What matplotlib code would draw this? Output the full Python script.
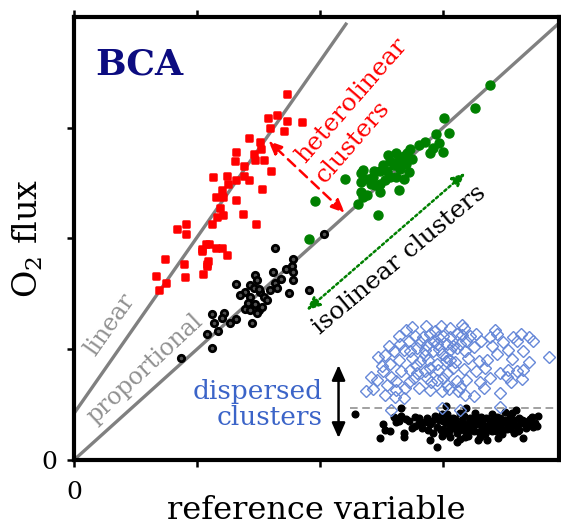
import numpy as np
import matplotlib
matplotlib.use('Agg')
import matplotlib.pyplot as plt
from matplotlib.markers import MarkerStyle

plt.rcParams['font.family'] = 'DejaVu Serif'
plt.rcParams['mathtext.fontset'] = 'dejavuserif'

# reference lines
linear_b, linear_m = 0.42, 1.59
prop_m = 1.0

# heterolinear cluster (red)
red = np.array([
    (1.73, 3.30), (1.58, 3.09), (1.65, 3.11), (1.73, 3.06), (1.85, 3.05),
    (1.59, 3.00), (1.71, 2.97), (1.42, 2.91), (1.51, 2.87), (1.52, 2.81),
    (1.32, 2.78), (1.46, 2.76), (1.47, 2.71), (1.54, 2.71), (1.31, 2.70),
    (1.38, 2.65), (1.60, 2.61), (1.24, 2.56), (1.13, 2.55), (1.32, 2.53),
    (1.38, 2.56), (1.42, 2.53), (1.25, 2.49), (1.53, 2.45), (1.20, 2.44),
    (1.15, 2.37), (1.21, 2.37), (1.32, 2.35), (1.19, 2.27), (1.21, 2.21),
    (1.37, 2.22), (1.16, 2.19), (1.12, 2.13), (1.48, 2.13), (0.91, 2.13),
    (0.84, 2.08), (0.91, 2.04), (1.07, 1.95), (1.04, 1.89), (1.15, 1.91),
    (1.20, 1.91), (1.24, 1.85), (1.09, 1.80), (1.08, 1.75), (1.05, 1.68),
    (0.74, 1.81), (0.89, 1.77), (0.90, 1.65), (0.67, 1.66), (0.75, 1.60),
    (0.69, 1.53), (1.10, 1.95), (1.08, 1.77), (1.04, 1.90),
])

# isolinear cluster, upper (green)
green = np.array([
    (3.38, 3.38), (3.26, 3.18), (3.01, 3.09), (3.05, 2.95), (2.94, 2.94),
    (2.85, 2.87), (2.80, 2.84), (2.97, 2.86), (2.92, 2.82), (2.89, 2.77),
    (3.00, 2.78), (2.71, 2.77), (2.62, 2.77), (2.68, 2.74), (2.57, 2.70),
    (2.60, 2.66), (2.70, 2.67), (2.54, 2.61), (2.49, 2.61), (2.65, 2.63),
    (2.72, 2.60), (2.62, 2.55), (2.68, 2.54), (2.35, 2.62), (2.43, 2.55),
    (2.49, 2.49), (2.41, 2.49), (2.45, 2.48), (2.33, 2.51), (2.20, 2.54),
    (2.64, 2.44), (2.57, 2.55), (2.33, 2.42), (2.49, 2.42), (2.38, 2.39),
    (2.35, 2.37), (2.31, 2.31), (2.47, 2.21), (1.96, 2.34), (1.91, 1.99),
    (2.33, 2.59), (2.51, 2.66), (2.55, 2.75), (2.63, 2.70), (2.44, 2.61),
    (2.75, 2.72), (2.73, 2.81), (2.53, 2.53), (2.39, 2.54),
])

# isolinear cluster, lower (black rings)
black = np.array([
    (2.03, 2.04), (1.63, 1.91), (1.78, 1.81), (1.72, 1.72), (1.77, 1.75),
    (1.78, 1.70), (1.62, 1.70), (1.68, 1.63), (1.63, 1.60), (1.78, 1.62),
    (1.47, 1.67), (1.32, 1.59), (1.49, 1.62), (1.43, 1.58), (1.46, 1.55),
    (1.39, 1.52), (1.51, 1.52), (1.59, 1.53), (1.65, 1.55), (1.75, 1.51),
    (1.91, 1.53), (1.43, 1.47), (1.54, 1.47), (1.57, 1.44), (1.47, 1.41),
    (1.39, 1.36), (1.43, 1.35), (1.50, 1.35), (1.41, 1.42), (1.53, 1.38),
    (1.49, 1.33), (1.45, 1.24), (1.32, 1.27), (1.27, 1.24), (1.22, 1.33),
    (1.20, 1.28), (1.12, 1.32), (1.14, 1.24), (1.17, 1.16), (1.08, 1.14),
    (1.12, 1.01), (0.87, 0.92), (1.50, 1.54), (1.35, 1.49),
])

# dispersed cluster, upper (open diamonds)
diamonds = np.array([
    (2.75, 1.20), (2.86, 1.21), (2.98, 1.21), (3.06, 1.19), (3.15, 1.22),
    (3.17, 1.19), (3.27, 1.14), (3.42, 1.17), (3.38, 1.11), (3.44, 1.14),
    (3.57, 1.11), (3.63, 1.14), (3.70, 1.11), (3.73, 1.07), (2.64, 1.12),
    (2.77, 1.12), (2.84, 1.11), (2.89, 1.14), (2.92, 1.07), (2.96, 1.11),
    (3.00, 1.12), (3.06, 1.11), (3.11, 1.14), (3.15, 1.13), (3.22, 1.12),
    (3.31, 1.07), (3.49, 1.06), (3.60, 1.07), (2.56, 1.03), (2.65, 1.05),
    (2.72, 1.07), (2.81, 1.06), (2.87, 1.04), (2.95, 1.05), (3.03, 1.05),
    (3.08, 1.03), (3.14, 1.05), (3.19, 1.07), (2.47, 0.93), (2.53, 0.95),
    (2.60, 0.98), (2.68, 0.99), (2.73, 0.98), (2.79, 1.01), (2.85, 0.99),
    (2.92, 0.98), (2.99, 0.96), (3.06, 0.99), (3.11, 1.01), (3.18, 0.98),
    (3.44, 0.96), (3.65, 0.98), (3.53, 0.99), (3.86, 0.93), (2.57, 0.87),
    (2.64, 0.90), (2.75, 0.92), (2.81, 0.89), (2.88, 0.90), (2.95, 0.87),
    (3.02, 0.89), (3.06, 0.90), (3.29, 0.89), (3.36, 0.90), (3.56, 0.91),
    (2.41, 0.75), (2.51, 0.80), (2.58, 0.75), (2.66, 0.80), (2.73, 0.81),
    (2.79, 0.78), (2.85, 0.80), (2.89, 0.83), (2.96, 0.81), (3.03, 0.78),
    (3.08, 0.83), (3.17, 0.82), (3.27, 0.80), (3.34, 0.83), (3.46, 0.78),
    (3.53, 0.81), (3.60, 0.80), (3.65, 0.81), (3.52, 0.75), (3.64, 0.73),
    (3.38, 0.74), (3.19, 0.72), (2.95, 0.72), (2.87, 0.74), (2.76, 0.74),
    (2.62, 0.71), (2.46, 0.72), (2.37, 0.62), (2.43, 0.64), (2.53, 0.59),
    (2.62, 0.63), (2.69, 0.65), (2.80, 0.65), (2.89, 0.63), (2.99, 0.62),
    (3.05, 0.64), (3.14, 0.66), (3.18, 0.59), (3.25, 0.58), (3.33, 0.65),
    (3.46, 0.60), (2.54, 0.68), (2.61, 0.57), (2.68, 0.56), (3.03, 0.68),
    (3.11, 0.71), (2.58, 0.45), (2.99, 0.47), (3.14, 0.45), (3.46, 0.48),
    (2.70, 1.17), (2.93, 1.16), (3.02, 0.93), (2.85, 0.95), (2.97, 1.00),
    (3.10, 0.88), (2.78, 0.86), (3.20, 0.92), (3.25, 1.02), (3.40, 1.03),
    (2.50, 0.85), (2.90, 0.70), (3.00, 0.74), (3.12, 0.62), (2.72, 0.70),
    (3.30, 0.70), (3.55, 0.70), (3.70, 0.88),
])

# dispersed cluster, lower (black dots)
dots = np.array([
    (2.28, 0.41), (2.66, 0.47), (3.02, 0.49), (3.19, 0.47), (2.99, 0.41),
    (2.51, 0.32), (2.53, 0.27), (2.57, 0.26), (2.49, 0.20), (2.60, 0.39),
    (2.64, 0.35), (2.68, 0.24), (2.68, 0.21), (2.72, 0.35), (2.75, 0.29),
    (2.77, 0.39), (2.80, 0.33), (2.83, 0.29), (2.87, 0.38), (2.89, 0.32),
    (2.89, 0.18), (2.92, 0.24), (2.95, 0.12), (2.98, 0.27), (3.00, 0.35),
    (3.03, 0.24), (3.06, 0.30), (3.08, 0.38), (3.11, 0.16), (3.11, 0.24),
    (3.14, 0.42), (3.15, 0.33), (3.18, 0.21), (3.19, 0.29), (3.22, 0.38),
    (3.25, 0.26), (3.26, 0.33), (3.30, 0.21), (3.31, 0.39), (3.33, 0.29),
    (3.36, 0.18), (3.38, 0.35), (3.40, 0.26), (3.44, 0.39), (3.45, 0.31),
    (3.48, 0.23), (3.50, 0.36), (3.52, 0.28), (3.56, 0.42), (3.57, 0.33),
    (3.59, 0.45), (3.61, 0.26), (3.64, 0.36), (3.65, 0.20), (3.68, 0.31),
    (3.72, 0.39), (3.75, 0.33), (3.77, 0.40), (3.76, 0.31),
    (2.95, 0.30), (2.97, 0.36), (3.00, 0.28), (3.02, 0.33), (3.04, 0.38),
    (3.05, 0.26), (3.07, 0.34), (3.09, 0.29), (3.10, 0.37), (3.12, 0.31),
    (3.13, 0.27), (3.15, 0.36), (3.16, 0.30), (3.17, 0.40), (3.20, 0.33),
    (3.21, 0.27), (3.23, 0.36), (3.24, 0.30), (3.27, 0.38), (3.28, 0.32),
    (3.29, 0.25), (3.32, 0.35), (3.34, 0.31), (3.35, 0.38), (3.37, 0.27),
    (3.39, 0.33), (3.41, 0.36), (3.42, 0.29), (3.44, 0.34), (3.46, 0.38),
    (3.47, 0.31), (3.49, 0.27), (3.51, 0.35), (3.53, 0.32), (3.54, 0.39),
    (3.55, 0.28), (3.58, 0.36), (3.60, 0.31), (3.62, 0.38), (3.63, 0.33),
    (3.66, 0.35), (3.67, 0.29), (3.70, 0.34), (3.71, 0.37), (3.73, 0.30),
    (2.85, 0.34), (2.88, 0.27), (2.91, 0.35), (2.93, 0.40), (2.80, 0.38),
    (2.77, 0.31), (2.70, 0.37), (2.66, 0.40), (2.62, 0.34), (3.06, 0.21),
    (3.20, 0.22), (3.34, 0.23), (3.45, 0.20), (3.58, 0.24), (3.03, 0.41),
    (3.26, 0.42), (3.40, 0.41), (3.50, 0.43), (3.14, 0.19), (3.28, 0.18),
    (2.99, 0.22), (3.38, 0.30), (3.18, 0.26), (3.48, 0.35), (3.62, 0.27),
    (3.25, 0.35), (3.10, 0.33), (3.56, 0.33), (3.32, 0.28), (3.43, 0.26),
])

split_y = 0.47

fig = plt.figure(figsize=(5.61, 5.25), dpi=100)
ax = fig.add_axes([0.132, 0.124, 0.864, 0.844])
ax.set_xlim(0, 3.94)
ax.set_ylim(0, 4.0)

# Linien
xl = np.array([0, 2.21])
ax.plot(xl, linear_b + linear_m * xl, color='#808080', lw=2.4, zorder=1)
xp = np.array([0, 4.0])
ax.plot(xp, prop_m * xp, color='#808080', lw=2.4, zorder=1)

ax.plot([2.24, 3.91], [split_y, split_y], color='#888888', lw=1.1, ls=(0, (5, 3)), zorder=1)

sq = MarkerStyle('s', joinstyle='round')
ax.plot(red[:, 0], red[:, 1], ls='none', marker=sq, ms=5, mfc='#ff0000', mec='#ff0000', mew=1.8, zorder=3)
ax.plot(green[:, 0], green[:, 1], ls='none', marker='o', ms=6.5, mfc='#008000', mec='#008000', zorder=3)
ax.plot(black[:, 0], black[:, 1], ls='none', marker='o', ms=4.6, mfc='#505050', mec='black', mew=2.0, zorder=3)
ax.plot(dots[:, 0], dots[:, 1], ls='none', marker='o', ms=4.8, color='black', zorder=3)
ax.plot(diamonds[:, 0], diamonds[:, 1], ls='none', marker='D', ms=6.3, mfc='none', mec='#6688d8', mew=1.0, zorder=4)

# Texte
ax.text(0.17, 3.48, 'BCA', fontsize=26, fontweight='bold', color='#0c0c80', va='baseline')
ax.text(0.29, 1.22, 'linear', fontsize=17, color='#909090', rotation=55,
        ha='center', va='center', rotation_mode='anchor')
ax.text(0.58, 0.82, 'proportional', fontsize=17, color='#909090', rotation=43,
        ha='center', va='center', rotation_mode='anchor')
ax.text(1.88, 2.67, 'heterolinear', fontsize=18, color='#ff0000', rotation=49,
        ha='left', va='baseline', rotation_mode='anchor')
ax.text(2.04, 2.49, 'clusters', fontsize=18, color='#ff0000', rotation=49,
        ha='left', va='baseline', rotation_mode='anchor')
ax.text(2.00, 1.13, 'isolinear clusters', fontsize=18, color='black', rotation=40,
        ha='left', va='baseline', rotation_mode='anchor')
ax.text(2.02, 0.55, 'dispersed', fontsize=19, color='#3b64c8', ha='right', va='baseline')
ax.text(2.02, 0.315, 'clusters', fontsize=19, color='#3b64c8', ha='right', va='baseline')

# Pfeile
ax.annotate('', xy=(1.58, 2.88), xytext=(2.20, 2.23),
            arrowprops=dict(arrowstyle='<|-|>,head_length=0.8,head_width=0.35', color='#ff0000',
                            lw=1.8, ls=(0, (4, 2.5)), shrinkA=0, shrinkB=0))
ax.annotate('', xy=(1.89, 1.35), xytext=(3.18, 2.59),
            arrowprops=dict(arrowstyle='<|-|>,head_length=0.8,head_width=0.35', color='#008000',
                            lw=1.8, ls=(0, (1, 1.2)), shrinkA=0, shrinkB=0))
ax.annotate('', xy=(2.15, 0.856), xytext=(2.15, 0.198),
            arrowprops=dict(arrowstyle='<|-|>,head_length=0.9,head_width=0.4', color='black',
                            lw=1.8, shrinkA=0, shrinkB=0))

# Achsen
for s in ax.spines.values():
    s.set_linewidth(3)
ax.set_xticks([0, 1, 2, 3])
ax.set_xticklabels(['0', '', '', ''])
ax.set_yticks([0, 1, 2, 3])
ax.set_yticklabels(['0', '', '', ''])
ax.tick_params(axis='x', direction='out', length=5, width=1.8, top=True, pad=10, labelsize=18)
ax.tick_params(axis='y', direction='out', length=5, width=1.8, right=False, pad=7, labelsize=18)

ax.set_xlabel('reference variable', fontsize=23)
ax.xaxis.set_label_coords(0.5, -0.08)
ax.set_ylabel('O$_2$ flux', fontsize=24)
ax.yaxis.set_label_coords(-0.06, 0.5)

plt.savefig('out.png', dpi=100)
